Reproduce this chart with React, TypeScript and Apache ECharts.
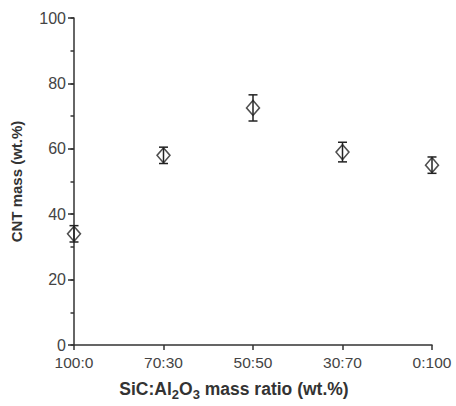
import React, { useEffect, useRef } from "react";
import * as echarts from "echarts";

const categories = ["100:0", "70:30", "50:50", "30:70", "0:100"];
const cntMass = [34, 58, 72.5, 59, 55];
const errLow = [31.5, 55.5, 68.5, 56, 52.5];
const errHigh = [36.5, 60.5, 76.5, 62, 57.5];

export default function App() {
  const ref = useRef<HTMLDivElement>(null);
  useEffect(() => {
    if (!ref.current) return;
    const chart = echarts.init(ref.current, undefined, { renderer: "svg" });
    const errData = categories.map((c, i) => [i, errLow[i], errHigh[i]]);
    const font = "Liberation Sans, Arial";
    chart.setOption({
      animation: false,
      backgroundColor: "#ffffff",
      grid: { left: 74, right: 24, top: 18, bottom: 48, containLabel: false },
      xAxis: {
        type: "category",
        data: categories,
        boundaryGap: false,
        axisLine: { lineStyle: { color: "#333", width: 1.5 } },
        axisTick: { alignWithLabel: true, length: 5, lineStyle: { color: "#333", width: 1.5 } },
        axisLabel: { color: "#444", fontSize: 15.5, fontFamily: font, margin: 9 },
        splitLine: { show: false },
        name: "{b|SiC:Al}{s|2}{b|O}{s|3}{b| mass ratio (wt.%)}",
        nameLocation: "middle",
        nameGap: 31,
        nameTextStyle: {
          padding: [0, 38, 0, 0],
          rich: {
            b: { fontSize: 17.5, fontWeight: "bold", color: "#333", fontFamily: font, lineHeight: 22, verticalAlign: "bottom" },
            s: { fontSize: 13, fontWeight: "bold", color: "#333", fontFamily: font, lineHeight: 22, verticalAlign: "bottom", padding: [0, 0, -3, 0] },
          },
        },
      },
      yAxis: [
        {
          type: "value",
          min: 0,
          max: 100,
          interval: 20,
          axisLine: { show: true, lineStyle: { color: "#333", width: 1.5 } },
          axisTick: { show: true, length: 6, lineStyle: { color: "#333", width: 1.5 } },
          axisLabel: { color: "#444", fontSize: 16, fontFamily: font, margin: 8 },
          splitLine: { show: false },
          name: "CNT mass (wt.%)",
          nameLocation: "middle",
          nameGap: 50,
          nameRotate: 90,
          nameTextStyle: { fontSize: 15, fontWeight: "bold", color: "#333", fontFamily: font },
        },
        {
          type: "value",
          position: "left",
          min: 0,
          max: 100,
          interval: 10,
          axisLine: { show: false },
          axisTick: { show: true, length: 3.5, lineStyle: { color: "#333", width: 1.5 } },
          axisLabel: { show: false },
          splitLine: { show: false },
        },
      ],
      series: [
        {
          type: "custom",
          data: errData,
          renderItem: (params: any, api: any) => {
            const x = api.value(0);
            const lo = api.coord([x, api.value(1)]);
            const hi = api.coord([x, api.value(2)]);
            const w = 4.5;
            const st = { stroke: "#222", lineWidth: 1.5 };
            return {
              type: "group",
              children: [
                { type: "line", shape: { x1: lo[0], y1: lo[1], x2: hi[0], y2: hi[1] }, style: st },
                { type: "line", shape: { x1: lo[0] - w, y1: lo[1], x2: lo[0] + w, y2: lo[1] }, style: st },
                { type: "line", shape: { x1: hi[0] - w, y1: hi[1], x2: hi[0] + w, y2: hi[1] }, style: st },
              ],
            };
          },
          z: 2,
        },
        {
          type: "scatter",
          data: cntMass,
          symbol: "diamond",
          symbolSize: [13, 15],
          itemStyle: { color: "rgba(255,255,255,0)", borderColor: "#222", borderWidth: 1.5 },
          z: 3,
        },
      ],
    });
    return () => chart.dispose();
  }, []);
  return <div ref={ref} style={{ width: 456, height: 406, position: "absolute", left: 0, top: 0 }} />;
}
